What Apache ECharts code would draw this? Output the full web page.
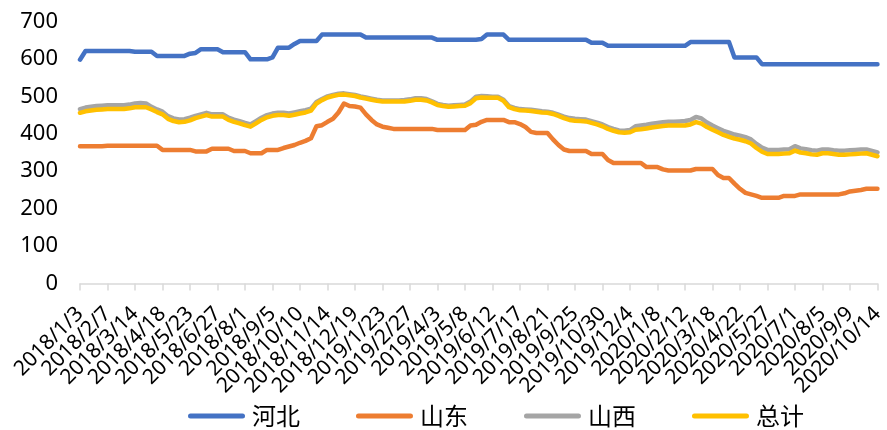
<!DOCTYPE html>
<html>
<head>
<meta charset="utf-8">
<script src="https://cdn.jsdelivr.net/npm/echarts@6/dist/echarts.min.js"></script>
<style>
html,body{margin:0;padding:0;background:#fff;}
#main{width:887px;height:430px;}
</style>
</head>
<body>
<div id="main"></div>
<script>
// Weekly categories: 2018/1/3 .. 2020/10/14 (146 weeks)
var categories = [];
(function(){
  var t = Date.UTC(2018,0,3), end = Date.UTC(2020,9,14);
  while (t <= end) {
    var d = new Date(t);
    categories.push(d.getUTCFullYear() + '/' + (d.getUTCMonth()+1) + '/' + d.getUTCDate());
    t += 7*86400000;
  }
})();

var seriesNames = ['河北','山东','山西','总计'];
var yTicks = [0,100,200,300,400,500,600,700];

var hebei = [598,
621,621,621,621,621,621,621,621,621,
619,619,619,619,
608,608,608,608,608,608,
614,616,
626,626,626,626,
618,618,618,618,618,
599,599,599,599,
604,
630,630,630,
640,
648,648,648,648,
665,665,665,665,665,665,665,665,
657,657,657,657,657,657,657,657,657,657,657,657,657,
651,651,651,651,651,651,651,651,
653,
665,665,665,665,
651,651,651,651,651,651,651,651,651,651,651,651,651,651,651,
643,643,643,
635,635,635,635,635,635,635,635,635,635,635,635,635,635,635,
645,645,645,645,645,645,645,645,
604,604,604,604,604,
586,586,586,586,586,586,586,586,586,586,586,586,586,586,586,586,586,586,586,586,586,586];

var shandong = [367,367,367,367,367,368,368,368,368,368,368,368,368,368,368,
357,357,357,357,357,357,
353,353,353,
360,360,360,360,
354,354,354,
348,348,348,
357,357,357,
362,366,370,376,381,388,420,423,432,440,457,481,474,473,470,452,437,425,419,416,
413,413,413,413,413,413,413,413,
410,410,410,410,410,410,
422,424,432,
437,437,437,437,
431,431,
426,418,405,
402,402,402,
385,370,358,
354,354,354,354,
346,346,346,
330,
322,322,322,322,322,322,
311,311,311,
305,
302,302,302,302,302,
306,306,306,306,
290,
282,282,
267,253,242,238,234,
229,229,229,229,
234,234,234,
238,238,238,238,238,238,238,238,
241,246,248,250,
253,253,253];

var shanxi = [466,470,472,474,475,476,476,476,476,478,
481,482,481,472,465,459,447,441,438,439,
443,448,452,456,452,452,452,443,438,434,
429,425,434,443,450,454,456,456,454,457,
460,463,467,485,493,500,504,507,508,506,
504,500,497,494,491,489,489,489,489,490,
492,495,495,493,487,480,477,475,476,477,
478,486,499,501,500,499,499,491,474,469,
466,465,464,462,460,459,456,451,446,442,
440,439,438,434,430,425,418,413,409,408,
410,420,422,424,427,429,431,432,432,433,
434,437,445,441,430,422,415,408,403,398,
395,391,385,373,363,357,357,357,358,359,
367,361,359,356,355,358,358,356,355,355,
356,357,358,358,354,350];

var zongji = [456,460,462,464,465,466,466,466,466,468,
471,471,471,465,458,452,440,434,431,432,
436,442,446,450,446,446,446,437,432,428,
423,419,428,437,444,448,450,450,448,451,
454,457,462,481,490,497,501,504,505,503,
501,497,494,491,488,486,486,486,486,486,
488,491,491,489,484,477,474,472,473,474,
475,482,495,497,496,496,496,488,471,466,
463,462,461,459,457,456,453,448,442,437,
435,434,433,429,425,420,413,408,404,403,
404,411,412,414,417,419,421,422,422,422,
422,425,431,427,418,411,404,397,392,387,
384,380,374,362,352,346,346,346,347,348,
355,350,348,345,344,348,348,346,344,344,
345,346,347,348,344,340];

var colors = ['#4472C4','#ED7D31','#A5A5A5','#FFC000'];
var dataList = [hebei, shandong, shanxi, zongji];

var chart = echarts.init(document.getElementById('main'), null, {renderer:'canvas'});
var series = seriesNames.map(function(n, k){
  return {
    name: n,
    type: 'line',
    xAxisIndex: 0,
    data: dataList[k],
    showSymbol: false,
    symbol: 'none',
    smooth: false,
    lineStyle: {color: colors[k], width: 4.5, cap: 'round', join: 'round'},
    itemStyle: {color: colors[k]},
    z: 2 + k
  };
});

// Labels every 5 weeks, split over 4 overlaid axes (offset 0,5,10,15 mod 20)
// so that ECharts' first/last-label overlap check hides nothing.
var labelStyle = {rotate: 45, margin: 27, fontSize: 21, color: '#000', fontFamily: '"Noto Sans"'};
function labelAxis(phase, main) {
  return {
    type: 'category',
    data: categories,
    boundaryGap: false,
    position: 'bottom',
    show: true,
    axisLine: {show: main, lineStyle: {color: '#D9D9D9', width: 1.5}},
    axisTick: {show: main, interval: 4, length: 7, lineStyle: {color: '#D9D9D9', width: 1.5}},
    axisLabel: Object.assign({
      interval: function (idx) { return idx % 20 === phase; }
    }, labelStyle),
    splitLine: {show: false}
  };
}

chart.setOption({
  animation: false,
  backgroundColor: '#fff',
  color: colors,
  grid: {left: 80, right: 1, top: 21.5, bottom: 146.5, containLabel: false},
  legend: {
    left: 183,
    top: 399,
    itemWidth: 57,
    itemHeight: 5,
    itemGap: 56,
    selectedMode: false,
    icon: 'path://M2.5,0 L54.5,0 A2.5,2.5 0 0 1 54.5,5 L2.5,5 A2.5,2.5 0 0 1 2.5,0 Z',
    textStyle: {fontFamily: '"Noto Sans CJK SC"', fontSize: 24, color: '#000', padding: [0,0,0,2]},
    data: seriesNames
  },
  xAxis: [labelAxis(0, true), labelAxis(5, false), labelAxis(10, false), labelAxis(15, false)],
  yAxis: {
    type: 'value',
    min: yTicks[0],
    max: yTicks[yTicks.length-1],
    interval: 100,
    axisLine: {show: false},
    axisTick: {show: false},
    splitLine: {show: false},
    axisLabel: {margin: 22, fontSize: 22, color: '#000', fontFamily: '"Noto Sans"'}
  },
  series: series
});
</script>
</body>
</html>
